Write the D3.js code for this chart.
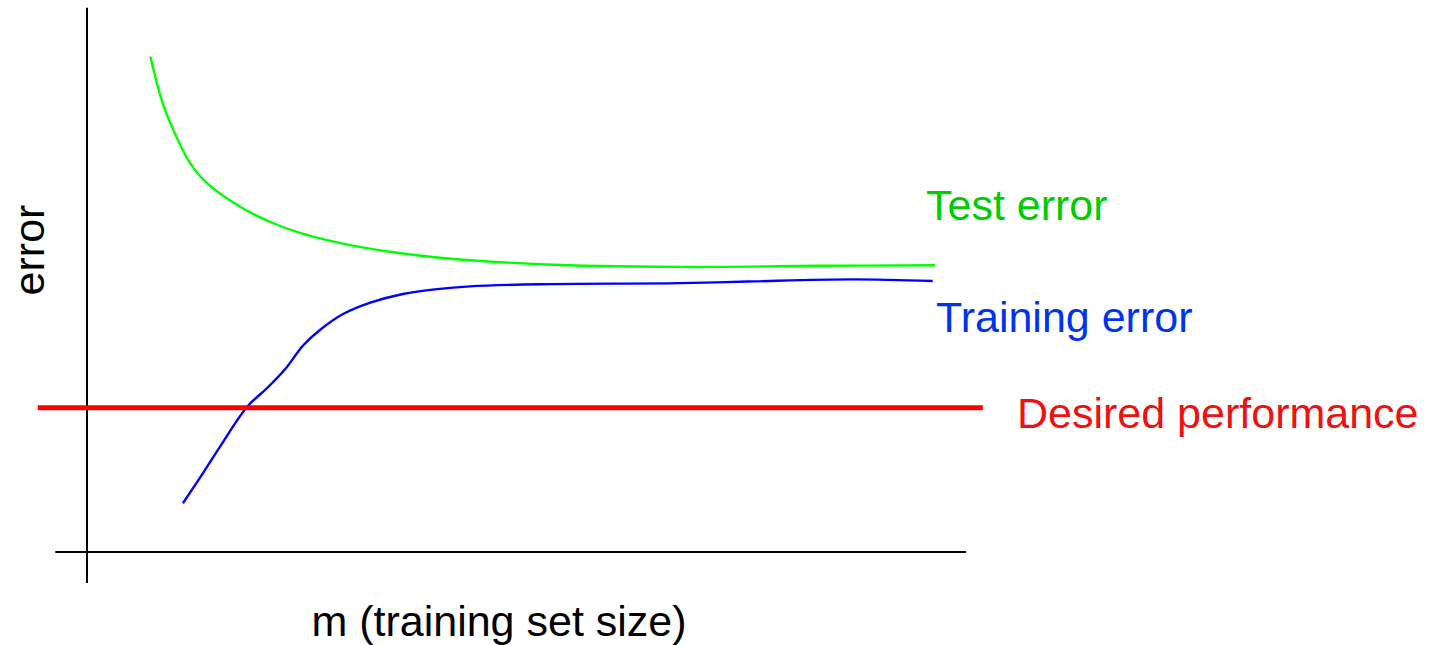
<!DOCTYPE html>
<html>
<head>
<meta charset="utf-8">
<script src="https://cdn.jsdelivr.net/npm/d3@7"></script>
<style>
  html, body { margin: 0; padding: 0; background: #fff; }
  #chart { width: 1432px; height: 645px; }
  text { font-family: "Liberation Sans", Arial, sans-serif; }
</style>
</head>
<body>
<div id="chart"></div>
<script>
// data (m in % of axis, error in % of axis)
const testM   = [7.2, 8.6, 9.8, 11.7, 13.6, 17.4, 21.1, 25.0, 28.8, 34.4, 40.1, 51.4, 67.3, 83.1, 96.4];
const testErr = [91.4, 82.8, 77.9, 71.8, 68.1, 63.7, 60.7, 58.5, 57.0, 55.4, 54.3, 53.1, 52.6, 52.8, 52.9];

const trainM   = [10.9, 13.2, 15.1, 18.2, 20.5, 22.7, 24.5, 26.5, 29.1, 32.2, 35.9, 39.8, 43.5, 51.4, 67.3, 75.1, 87.0, 96.1];
const trainErr = [9.0, 14.6, 19.4, 26.8, 30.3, 34.1, 38.0, 41.0, 43.9, 46.0, 47.6, 48.5, 49.0, 49.4, 49.6, 49.9, 50.3, 50.0];

const desiredErr = 26.6;
const desiredM = [-5.6, 101.8];

const labels = {
  test: "Test error",
  train: "Training error",
  desired: "Desired performance",
  x: "m (training set size)",
  y: "error"
};

// 1. canvas
const width = 1432;
const height = 645;

const svg = d3.select("#chart")
    .append("svg")
    .attr("width", width)
    .attr("height", height);

// 2. scales
const xScale = d3.scaleLinear()
    .domain([0, 100])
    .range([87, 967]);

const yScale = d3.scaleLinear()
    .domain([0, 100])
    .range([552, 10]);

// 3. axes (plain lines, no ticks)
svg.append("line")
    .attr("x1", xScale(0)).attr("x2", xScale(0))
    .attr("y1", yScale(100.4)).attr("y2", yScale(-5.7))
    .attr("stroke", "#000").attr("stroke-width", 2);

svg.append("line")
    .attr("x1", xScale(-3.6)).attr("x2", xScale(99.9))
    .attr("y1", yScale(0)).attr("y2", yScale(0))
    .attr("stroke", "#000").attr("stroke-width", 2);

// 4. curves
const line = d3.line()
    .x(d => xScale(d[0]))
    .y(d => yScale(d[1]))
    .curve(d3.curveCatmullRom.alpha(0.5));

const testData = testM.map((m, i) => [m, testErr[i]]);
const trainData = trainM.map((m, i) => [m, trainErr[i]]);

svg.append("path")
    .datum(testData)
    .attr("d", line)
    .attr("fill", "none")
    .attr("stroke", "#00ff00")
    .attr("stroke-width", 2.4);

svg.append("path")
    .datum(trainData)
    .attr("d", line)
    .attr("fill", "none")
    .attr("stroke", "#0000ff")
    .attr("stroke-width", 2.4);

svg.append("line")
    .attr("x1", xScale(desiredM[0])).attr("x2", xScale(desiredM[1]))
    .attr("y1", yScale(desiredErr)).attr("y2", yScale(desiredErr))
    .attr("stroke", "#ff0000")
    .attr("stroke-width", 5);

// 5. labels
svg.append("text")
    .attr("x", 926).attr("y", 220)
    .attr("font-size", 43)
    .attr("fill", "#00cc00")
    .text(labels.test);

svg.append("text")
    .attr("x", 936).attr("y", 332)
    .attr("font-size", 43)
    .attr("fill", "#0033ee")
    .text(labels.train);

svg.append("text")
    .attr("x", 1017).attr("y", 428)
    .attr("font-size", 43)
    .attr("fill", "#ee1111")
    .text(labels.desired);

svg.append("text")
    .attr("x", 499).attr("y", 636)
    .attr("text-anchor", "middle")
    .attr("font-size", 43)
    .attr("fill", "#000")
    .text(labels.x);

svg.append("text")
    .attr("transform", "rotate(-90)")
    .attr("x", -250).attr("y", 44)
    .attr("text-anchor", "middle")
    .attr("font-size", 43)
    .attr("fill", "#000")
    .text(labels.y);
</script>
</body>
</html>
